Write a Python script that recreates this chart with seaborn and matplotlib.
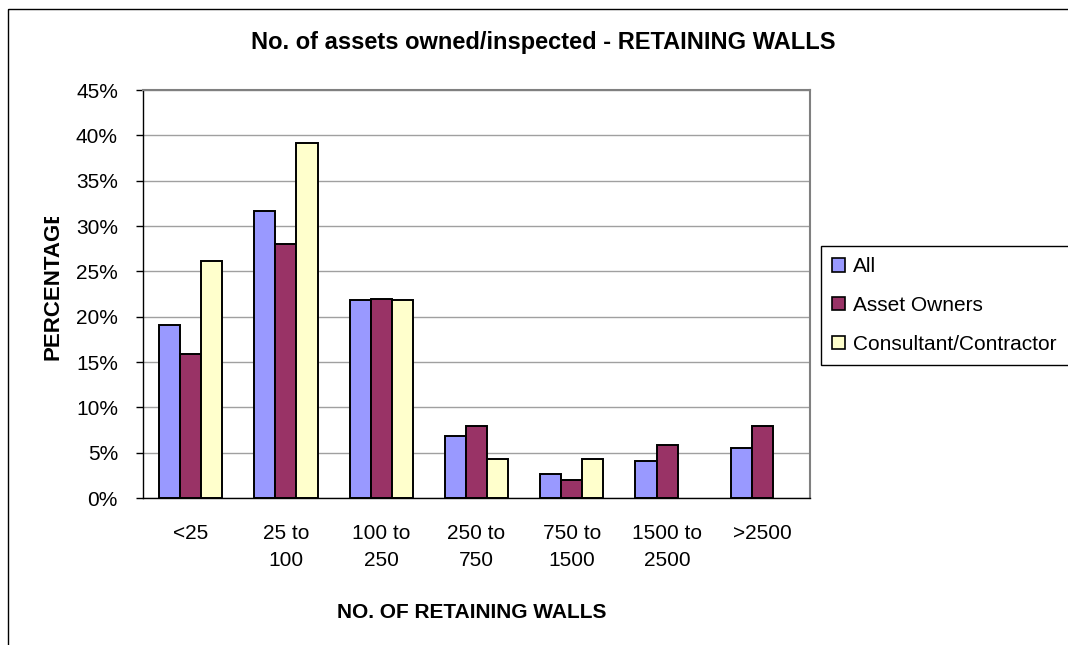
import matplotlib
matplotlib.use("Agg")
import matplotlib.pyplot as plt
from matplotlib.patches import Rectangle
from matplotlib.transforms import Bbox
import seaborn as sns
import pandas as pd

# values (percent)
categories = ["<25", "25 to\n100", "100 to\n250", "250 to\n750", "750 to\n1500", "1500 to\n2500", ">2500"]
groups = ["All", "Asset Owners", "Consultant/Contractor"]
all_pct = [19.1, 31.6, 21.8, 6.8, 2.7, 4.1, 5.5]
owners_pct = [15.9, 28.0, 22.0, 7.9, 2.0, 5.9, 7.9]
consult_pct = [26.1, 39.1, 21.8, 4.3, 4.3, 0.0, 0.0]
colors = ["#9999FF", "#993366", "#FFFFCC"]
yticks = [0, 5, 10, 15, 20, 25, 30, 35, 40, 45]

df = pd.DataFrame({
    "range": categories * 3,
    "pct": all_pct + owners_pct + consult_pct,
    "group": [g for g in groups for _ in categories],
})

sns.set_style("white")
plt.rcParams["font.family"] = ["Liberation Sans", "DejaVu Sans"]
plt.rcParams["text.color"] = "black"
plt.rcParams["xtick.color"] = "black"
plt.rcParams["ytick.color"] = "black"
plt.rcParams["xtick.labelcolor"] = "black"
plt.rcParams["ytick.labelcolor"] = "black"

W, H = 1068, 645
fig = plt.figure(figsize=(W / 100, H / 100), dpi=100)
# plot area in pixels: left 143, right 810, top 90, bottom 498
ax = fig.add_axes([143 / W, 1 - 498 / H, (810 - 143) / W, (498 - 90) / H])

sns.barplot(data=df, x="range", y="pct", hue="group", order=categories,
            hue_order=groups, palette=colors, edgecolor="black",
            linewidth=1.4, width=0.665, saturation=1, ax=ax)

# empty categories show no bar at all in the reference
for cont in ax.containers:
    for p in cont:
        if p.get_height() == 0:
            p.set_visible(False)

ax.set_ylim(0, 45)
ax.set_xlim(-0.5, len(categories) - 0.5)
ax.set_yticks(yticks)
ax.set_yticklabels([f"{v}%" for v in yticks])
ax.yaxis.grid(True, color="#a0a0a0", linewidth=1.0)
ax.set_axisbelow(True)

# x ticks sit between categories
ax.set_xticks(range(len(categories)))
ax.set_xticklabels(categories, linespacing=1.5)
ax.set_xticks([i - 0.5 for i in range(len(categories) + 1)], minor=True)
ax.tick_params(axis="x", which="major", length=0, pad=19, labelsize=15, labelcolor="black")
ax.tick_params(axis="x", which="minor", length=5, width=1, color="black", direction="out")
ax.tick_params(axis="y", length=5, width=1, color="black", direction="out", pad=13,
               labelsize=15, labelcolor="black", left=True)

for s in ["left", "bottom"]:
    ax.spines[s].set_color("black")
    ax.spines[s].set_linewidth(1.0)
for s in ["top", "right"]:
    ax.spines[s].set_visible(True)
    ax.spines[s].set_color("#808080")
    ax.spines[s].set_linewidth(1.5)

ax.set_xlabel("")
ax.set_ylabel("")

fig.text(543 / W, 1 - 43 / H, "No. of assets owned/inspected - RETAINING WALLS",
         ha="center", va="center", fontsize=17, fontweight="bold", color="black")
fig.text(472 / W, 1 - 612 / H, "NO. OF RETAINING WALLS",
         ha="center", va="center", fontsize=15, fontweight="bold", color="black")
ylab = fig.text(53 / W, 1 - 283 / H, "PERCENTAGE", rotation=90,
                ha="center", va="center", fontsize=16, fontweight="bold", color="black")
# the label is cut off at its top in the reference
ylab.set_clip_box(Bbox.from_extents(0, H - 217, 140, 0))
ylab.set_clip_on(True)

handles, labels = ax.get_legend_handles_labels()
# box runs past the right edge of the image, as in the reference
leg = ax.legend(handles, labels, loc="upper left", mode="expand",
                bbox_to_anchor=(821 / W, 0, 270 / W, 1 - 246 / H), bbox_transform=fig.transFigure,
                borderaxespad=0, fontsize=15, frameon=True, fancybox=False,
                edgecolor="black", framealpha=1, handlelength=0.6, handleheight=0.6,
                handletextpad=0.4, labelspacing=0.94, borderpad=0.55, labelcolor="black")
leg.get_frame().set_linewidth(1.0)
for h in leg.legend_handles:
    h.set_edgecolor("black")
    h.set_linewidth(1.2)

# chart area border (right/bottom fall off the image)
fig.patches.append(Rectangle((8, H - 9), W + 20, -(H + 20), transform=None,
                             fill=False, edgecolor="black", linewidth=1.0))

fig.savefig("out.png", dpi=100)
